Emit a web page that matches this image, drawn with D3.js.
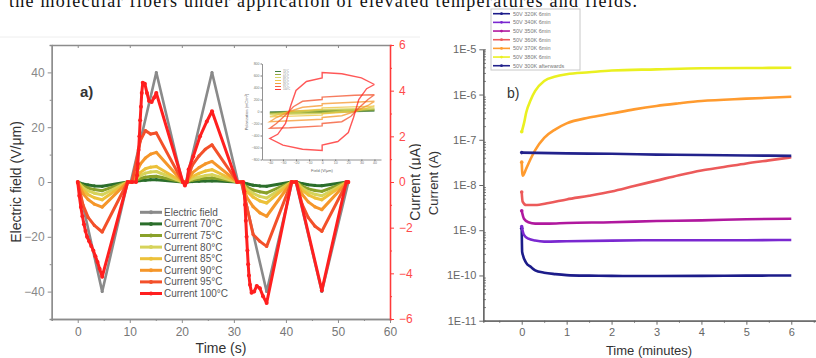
<!DOCTYPE html>
<html>
<head>
<meta charset="utf-8">
<script src="https://cdn.jsdelivr.net/npm/d3@7"></script>
<style>
  body { margin: 0; background: #fff; }
  svg { display: block; }
</style>
</head>
<body>
<script>
// ---- panel a) : field + currents vs time (s), currents in uA
const fieldPts = [[0, 0], [4.7, -40], [9.6, 0], [10.2, 0], [15.1, 40], [20.1, 0], [20.8, 0], [25.8, 40],
  [30.8, 0], [31.4, 0], [36.3, -40], [41.2, 0], [41.9, 0], [46.9, -40], [52, 0]]

const tSkel = [0, 1, 2, 3.2, 4.7, 9.6, 10.4, 11.3, 12, 13, 14, 15.1, 20.2, 20.9, 22, 23.3, 24.5, 25.8,
  30.7, 31.5, 32.5, 33.7, 35, 36.3, 41.1, 42, 43.1, 44.3, 45.6, 46.9, 51.8, 52]
const i70 = [0, -0.09, -0.13, -0.17, -0.19, 0, 0, 0.03, 0.06, 0.08, 0.1, 0.1, 0, 0, 0.02, 0.035, 0.045, 0.05,
  0, 0, -0.08, -0.14, -0.17, -0.19, 0, 0, -0.07, -0.12, -0.15, -0.16, 0, 0]
const i75 = [0, -0.17, -0.27, -0.33, -0.38, 0, 0, 0.08, 0.15, 0.21, 0.24, 0.25, 0, 0, 0.08, 0.13, 0.16, 0.18,
  0, 0, -0.22, -0.35, -0.43, -0.48, 0, 0, -0.18, -0.3, -0.37, -0.41, 0, 0]
const i80 = [0, -0.25, -0.39, -0.49, -0.56, 0, 0, 0.14, 0.28, 0.39, 0.44, 0.46, 0, 0, 0.14, 0.22, 0.28, 0.32,
  0, 0, -0.32, -0.5, -0.63, -0.7, 0, 0, -0.27, -0.43, -0.54, -0.6, 0, 0]
const i85 = [0, -0.35, -0.55, -0.69, -0.78, 0, 0, 0.2, 0.41, 0.58, 0.65, 0.68, 0, 0, 0.24, 0.38, 0.48, 0.54,
  0, 0, -0.41, -0.66, -0.83, -0.92, 0, 0, -0.35, -0.56, -0.7, -0.78, 0, 0]
const i90 = [0, -0.5, -0.77, -0.97, -1.1, 0, 0, 0.39, 0.78, 1.05, 1.22, 1.3, 0, 0, 0.4, 0.63, 0.79, 0.9,
  0, 0, -0.68, -1.08, -1.35, -1.5, 0, 0, -0.54, -0.87, -1.09, -1.21, 0, 0]
const i95 = [0, -1.0, -1.55, -1.9, -2.19, 0, 0, 0.9, 1.8, 2.25, 2.1, 2.15, 0, 0, 0.73, 1.14, 1.43, 1.63,
  0, 0, -1.1, -2.3, -2.6, -2.82, 0, 0, -0.97, -1.56, -1.94, -2.16, 0, 0]
const i100 = [[0, 0], [0.3, -0.6], [0.6, -1.1], [0.9, -1.5], [1.2, -1.85], [1.5, -2.15], [1.8, -2.4], [2.2, -2.6],
  [2.6, -2.8], [3.0, -3.0], [3.4, -3.25], [3.8, -3.5], [4.2, -3.8], [4.7, -4.15], [9.6, 0], [10.4, 0], [11.2, 0],
  [11.4, 0.3], [11.55, 0.8], [11.7, 1.4], [11.85, 2.0], [12.0, 2.7], [12.15, 3.3], [12.3, 3.9], [12.5, 4.35],
  [12.9, 4.3], [13.3, 3.9], [13.7, 3.55], [14.2, 3.5], [14.7, 3.7], [15.1, 3.9], [20.2, 0], [20.6, -0.15],
  [21, 0], [21.3, 0.55], [22.2, 1.12], [23.5, 2.0], [24.8, 2.65], [25.8, 3.1], [30.6, 0], [31.8, 0],
  [32.0, -0.4], [32.15, -1.0], [32.3, -1.7], [32.45, -2.4], [32.6, -3.0], [32.75, -3.6], [32.9, -4.1],
  [33.1, -4.5], [33.4, -4.85], [33.9, -4.8], [34.4, -4.55], [35.0, -4.65], [35.6, -5.0], [36.3, -5.3],
  [41.1, 0], [42, 0], [46.9, -4.75], [51.6, 0], [52, 0]]

const seriesA = ['Electric field', 'Current 70°C', 'Current 75°C', 'Current 80°C', 'Current 85°C',
  'Current 90°C', 'Current 95°C', 'Current 100°C']
const colorsA = ['#8a8a8a', '#2b6e2b', '#8aa12a', '#d6d35a', '#ecc13a', '#f5962a', '#f3502a', '#ff1f1f']

// inset P-E loops, field (V/um) vs polarization
const loop70 = [[40, 12], [0, 8], [-40, -12], [0, -8], [40, 12]]
const loop75 = [[40, 28], [0, 16], [-40, -28], [0, -16], [40, 28]]
const loop80 = [[40, 50], [0, 30], [-40, -50], [0, -30], [40, 50]]
const loop85 = [[40, 90], [0, 60], [0, 40], [-25, 0], [-40, -90], [0, -60], [0, -40], [25, 0], [40, 90]]
const loop90 = [[40, 170], [20, 150], [0, 130], [0, 100], [-15, 70], [-25, 0], [-35, -100], [-40, -170],
  [-20, -150], [0, -130], [0, -100], [15, -70], [25, 0], [35, 100], [40, 170]]
const loop95 = [[40, 280], [25, 270], [0, 240], [0, 200], [-15, 170], [-22, 80], [-28, -60], [-35, -200],
  [-40, -280], [-25, -270], [0, -240], [0, -200], [15, -170], [22, -80], [28, 60], [35, 200], [40, 280]]
const loop100 = [[40, 450], [30, 560], [15, 630], [0, 650], [0, 560], [-12, 500], [-20, 350], [-24, 100],
  [-28, -200], [-34, -380], [-40, -450], [-30, -560], [-15, -630], [0, -650], [0, -560], [12, -500],
  [20, -350], [24, -100], [28, 200], [34, 380], [40, 450]]
const insetLabels = ['70°C', '75°C', '80°C', '85°C', '90°C', '95°C', '100°C']

// ---- panel b) : current (A) vs time (minutes), log scale
const seriesB = ['50V 320K 6min', '50V 340K 6min', '50V 350K 6min', '50V 360K 6min', '50V 370K 6min',
  '50V 380K 6min', '50V 300K afterwards']
const colorsB = ['#1c1c8a', '#7a28d0', '#b0189e', '#ec5a5a', '#ff9b2f', '#eaf020', '#22228c']
const r320 = [[0, 1.1e-9], [0.01, 3.3e-10], [0.1, 1.9e-10], [0.2, 1.55e-10], [0.3, 1.3e-10], [0.5, 1.15e-10],
  [0.75, 1.07e-10], [1, 1.02e-10], [1.5, 9.9e-11], [2, 9.8e-11], [3, 9.7e-11], [4, 9.8e-11], [5, 9.9e-11], [6, 1.0e-10]]
const r340 = [[0, 1.2e-9], [0.05, 7.9e-10], [0.15, 6.5e-10], [0.3, 5.9e-10], [0.5, 5.6e-10], [1, 5.7e-10],
  [2, 5.9e-10], [3, 6.0e-10], [4, 6.0e-10], [5, 6.0e-10], [6, 6.1e-10]]
const r350 = [[0, 2.7e-9], [0.05, 1.8e-9], [0.15, 1.5e-9], [0.3, 1.4e-9], [0.6, 1.4e-9], [1, 1.45e-9],
  [2, 1.5e-9], [3, 1.6e-9], [4, 1.65e-9], [5, 1.75e-9], [6, 1.8e-9]]
const r360 = [[0, 7e-9], [0.02, 4.3e-9], [0.1, 3.6e-9], [0.3, 3.6e-9], [0.6, 4.0e-9], [1, 4.8e-9], [1.5, 5.8e-9],
  [2, 7.2e-9], [2.5, 9.5e-9], [3, 1.25e-8], [3.5, 1.65e-8], [4, 2.1e-8], [4.5, 2.5e-8], [5, 3.0e-8],
  [5.5, 3.5e-8], [6, 4.1e-8]]
const r370 = [[0, 3.2e-8], [0.02, 1.6e-8], [0.1, 2.3e-8], [0.2, 3.8e-8], [0.3, 5.9e-8], [0.5, 1.1e-7],
  [0.75, 1.7e-7], [1, 2.3e-7], [1.5, 3.1e-7], [2, 3.8e-7], [2.5, 4.7e-7], [3, 5.6e-7], [3.5, 6.4e-7],
  [4, 7.2e-7], [5, 8.1e-7], [6, 8.9e-7]]
const r380 = [[0, 1.5e-7], [0.05, 2.3e-7], [0.1, 4e-7], [0.2, 7.6e-7], [0.3, 1.2e-6], [0.5, 2.0e-6],
  [0.75, 2.5e-6], [1, 2.8e-6], [1.5, 3.1e-6], [2, 3.4e-6], [3, 3.6e-6], [4, 3.8e-6], [5, 3.85e-6], [6, 3.9e-6]]
const r300 = [[0, 5.2e-8], [1, 5.0e-8], [2, 4.9e-8], [3, 4.7e-8], [4, 4.6e-8], [5, 4.5e-8], [6, 4.4e-8]]

const caption = 'the molecular fibers under application of elevated temperatures and fields.'

const svg = d3.select('body').append('svg')
  .attr('width', 816).attr('height', 358)
  .style('font-family', 'Arial, "Liberation Sans", sans-serif')

svg.append('text')
  .attr('x', 9).attr('y', 7)
  .attr('font-family', '"Liberation Serif", "Times New Roman", serif')
  .attr('font-size', 18).attr('fill', '#111')
  .attr('textLength', 628).attr('lengthAdjust', 'spacing')
  .text(caption)

svg.append('line').attr('x1', 0).attr('x2', 420).attr('y1', 37).attr('y2', 37)
  .attr('stroke', '#eeeeee')

const styleAxis = (g, color, textColor, size) => {
  g.select('.domain').attr('stroke', color).attr('stroke-width', 1.3)
  g.selectAll('.tick line').attr('stroke', color)
  g.selectAll('.tick text').attr('fill', textColor).attr('font-size', size)
}

// ================= panel a =================
svg.append('clipPath').attr('id', 'clipA').append('rect')
  .attr('x', 0).attr('y', 0).attr('width', 421).attr('height', 358)
const gA = svg.append('g').attr('clip-path', 'url(#clipA)')

const xL = d3.scaleLinear().domain([-5, 60]).range([51.7, 390])
const yL = d3.scaleLinear().domain([-50, 50]).range([319, 45])
const yR = d3.scaleLinear().domain([-6, 6]).range([319, 45])

styleAxis(gA.append('g').attr('transform', 'translate(0,319)')
  .call(d3.axisBottom(xL).tickValues(d3.range(0, 61, 10)).tickSize(4).tickSizeOuter(0).tickPadding(4)), '#8c8c8c', '#777', 12)
styleAxis(gA.append('g').attr('transform', 'translate(0,319)')
  .call(d3.axisBottom(xL).tickValues(d3.range(-5, 60, 10)).tickSize(2).tickFormat('')), '#8c8c8c', '#777', 12)
styleAxis(gA.append('g').attr('transform', 'translate(0,45)')
  .call(d3.axisTop(xL).tickValues(d3.range(0, 61, 10)).tickSize(-3).tickSizeOuter(0).tickFormat('')), '#8c8c8c', '#777', 12)
styleAxis(gA.append('g').attr('transform', 'translate(51.7,0)')
  .call(d3.axisLeft(yL).tickValues([-40, -20, 0, 20, 40]).tickSize(4).tickSizeOuter(0).tickPadding(3)), '#8c8c8c', '#888', 12)
styleAxis(gA.append('g').attr('transform', 'translate(51.7,0)')
  .call(d3.axisLeft(yL).tickValues([-50, -30, -10, 10, 30, 50]).tickSize(2).tickFormat('')), '#8c8c8c', '#888', 12)
styleAxis(gA.append('g').attr('transform', 'translate(390,0)')
  .call(d3.axisRight(yR).tickValues(d3.range(-6, 7, 2)).tickSize(4).tickSizeOuter(0).tickPadding(5)), '#ff3a3a', '#ff4a4a', 12)
styleAxis(gA.append('g').attr('transform', 'translate(390,0)')
  .call(d3.axisRight(yR).tickValues([-5, -3, -1, 1, 3, 5]).tickSize(2).tickFormat('')), '#ff3a3a', '#ff4a4a', 12)

gA.append('text').attr('transform', 'translate(21,182) rotate(-90)')
  .attr('text-anchor', 'middle').attr('font-size', 14).attr('fill', '#333')
  .text('Electric field (V/μm)')
gA.append('text').attr('x', 221).attr('y', 353)
  .attr('text-anchor', 'middle').attr('font-size', 14).attr('fill', '#333')
  .text('Time (s)')
gA.append('text').attr('transform', 'translate(420,182) rotate(-90)')
  .attr('text-anchor', 'middle').attr('font-size', 14).attr('fill', '#333')
  .text('Current (μA)')
gA.append('text').attr('x', 80).attr('y', 97)
  .attr('font-size', 15).attr('font-weight', 'bold').attr('fill', '#333').text('a)')

// inset
const xI = d3.scaleLinear().domain([-46, 45]).range([262, 381])
const yI = d3.scaleLinear().domain([-800, 800]).range([159.5, 63.5])
const gI = gA.append('g')
const iax1 = gI.append('g').attr('transform', 'translate(0,159.5)')
  .call(d3.axisBottom(xI).tickValues(d3.range(-40, 41, 10)).tickSize(1.5).tickSizeOuter(0).tickPadding(1))
styleAxis(iax1, '#777', '#777', 3.5)
const iax2 = gI.append('g').attr('transform', 'translate(262,0)')
  .call(d3.axisLeft(yI).tickValues(d3.range(-800, 801, 200)).tickSize(1.5).tickSizeOuter(0).tickPadding(1))
styleAxis(iax2, '#777', '#777', 3.5)
iax1.select('.domain').attr('stroke-width', 0.8)
iax2.select('.domain').attr('stroke-width', 0.8)
gI.append('text').attr('x', 322).attr('y', 172).attr('text-anchor', 'middle')
  .attr('font-size', 4).attr('fill', '#666').text('Field (V/μm)')
gI.append('text').attr('transform', 'translate(248,112) rotate(-90)').attr('text-anchor', 'middle')
  .attr('font-size', 4).attr('fill', '#666').text('Polarization (mC/m²)')

const loopLine = d3.line().x((d) => xI(d[0])).y((d) => yI(d[1]))
const loops = [loop70, loop75, loop80, loop85, loop90, loop95, loop100]
loops.forEach((lp, i) => {
  gI.append('path').datum(lp)
    .attr('fill', 'none').attr('stroke', colorsA[i + 1])
    .attr('stroke-opacity', 0.75).attr('stroke-width', i < 3 ? 2 : 1.4)
    .attr('d', loopLine)
})
insetLabels.forEach((lab, i) => {
  const y = 71.5 + i * 3
  gI.append('line').attr('x1', 275).attr('x2', 281).attr('y1', y).attr('y2', y)
    .attr('stroke', colorsA[i + 1]).attr('stroke-width', 0.9)
  gI.append('text').attr('x', 283).attr('y', y).attr('dy', '0.35em')
    .attr('font-size', 2.6).attr('fill', '#888').text(lab)
})

// curves
const lineA = d3.line().x((d) => xL(d[0])).y((d) => d[2])
const drawSeries = (pts, yScale, color, width, r) => {
  const data = pts.map((p) => [p[0], p[1], yScale(p[1])])
  gA.append('path').datum(data)
    .attr('fill', 'none').attr('stroke', color).attr('stroke-width', width)
    .attr('stroke-linejoin', 'round').attr('d', lineA)
  gA.append('g').selectAll('circle').data(data).join('circle')
    .attr('cx', (d) => xL(d[0])).attr('cy', (d) => d[2]).attr('r', r).attr('fill', color)
}
drawSeries(fieldPts, yL, colorsA[0], 2.6, 1.5)
const currents = [i70, i75, i80, i85, i90, i95]
currents.forEach((vals, i) => {
  drawSeries(tSkel.map((t, k) => [t, vals[k]]), yR, colorsA[i + 1], 3, 1.6)
})
drawSeries(i100, yR, colorsA[7], 3, 2)

// legend a
seriesA.forEach((name, i) => {
  const y = 212.3 + i * 11.6
  gA.append('line').attr('x1', 140).attr('x2', 162).attr('y1', y).attr('y2', y)
    .attr('stroke', colorsA[i]).attr('stroke-width', 3)
  gA.append('circle').attr('cx', 151).attr('cy', y).attr('r', 2).attr('fill', colorsA[i])
  gA.append('text').attr('x', 164).attr('y', y).attr('dy', '0.35em')
    .attr('font-size', 10).attr('fill', '#555').text(name)
})

// ================= panel b =================
const gB = svg.append('g')
const xB = d3.scaleLinear().domain([-0.855, 6.55]).range([483.3, 816])
const yB = d3.scaleLog().domain([1e-11, 1e-5]).range([320.7, 49.3])

const decades = [1e-5, 1e-6, 1e-7, 1e-8, 1e-9, 1e-10, 1e-11]
const minorB = []
decades.slice(1).forEach((d) => { for (let m = 2; m <= 9; m++) minorB.push(d * m) })

styleAxis(gB.append('g').attr('transform', 'translate(483.3,0)')
  .call(d3.axisLeft(yB).tickValues(decades).tickSize(4).tickSizeOuter(0).tickPadding(3)
    .tickFormat((d) => '1E' + Math.round(Math.log10(d)))), '#666', '#666', 11)
styleAxis(gB.append('g').attr('transform', 'translate(483.3,0)')
  .call(d3.axisLeft(yB).tickValues(minorB).tickSize(-2.5).tickFormat('')), '#666', '#666', 11)
styleAxis(gB.append('g').attr('transform', 'translate(0,320.7)')
  .call(d3.axisBottom(xB).tickValues(d3.range(0, 7)).tickSize(4).tickSizeOuter(0).tickPadding(4)), '#666', '#666', 11)
styleAxis(gB.append('g').attr('transform', 'translate(0,320.7)')
  .call(d3.axisBottom(xB).tickValues([-0.5, 0.5, 1.5, 2.5, 3.5, 4.5, 5.5, 6.5]).tickSize(2).tickFormat('')), '#666', '#666', 11)

gB.append('text').attr('x', 649).attr('y', 355).attr('text-anchor', 'middle')
  .attr('font-size', 13).attr('fill', '#333').text('Time (minutes)')
gB.append('text').attr('transform', 'translate(438,183) rotate(-90)').attr('text-anchor', 'middle')
  .attr('font-size', 13).attr('fill', '#333').text('Current (A)')
gB.append('text').attr('x', 507).attr('y', 98)
  .attr('font-size', 14).attr('fill', '#333').text('b)')

const lineB = d3.line().x((d) => xB(d[0])).y((d) => yB(d[1])).curve(d3.curveMonotoneX)
const seriesDataB = [r320, r340, r350, r360, r370, r380, r300]
seriesDataB.forEach((pts, i) => {
  gB.append('path').datum(pts)
    .attr('fill', 'none').attr('stroke', colorsB[i]).attr('stroke-width', 2.6)
    .attr('d', lineB)
  gB.append('circle').attr('cx', xB(pts[0][0])).attr('cy', yB(pts[0][1])).attr('r', 1.8).attr('fill', colorsB[i])
})

// legend b
gB.append('rect').attr('x', 491).attr('y', 9).attr('width', 89).attr('height', 61)
  .attr('fill', '#fff').attr('stroke', '#c8c8c8')
seriesB.forEach((name, i) => {
  const y = 13.7 + i * 8.67
  gB.append('line').attr('x1', 493).attr('x2', 510).attr('y1', y).attr('y2', y)
    .attr('stroke', colorsB[i]).attr('stroke-width', 1.6)
  gB.append('circle').attr('cx', 501.5).attr('cy', y).attr('r', 1.4).attr('fill', colorsB[i])
  gB.append('text').attr('x', 513).attr('y', y).attr('dy', '0.35em')
    .attr('font-size', 5.5).attr('fill', '#777').text(name)
})
</script>
</body>
</html>
